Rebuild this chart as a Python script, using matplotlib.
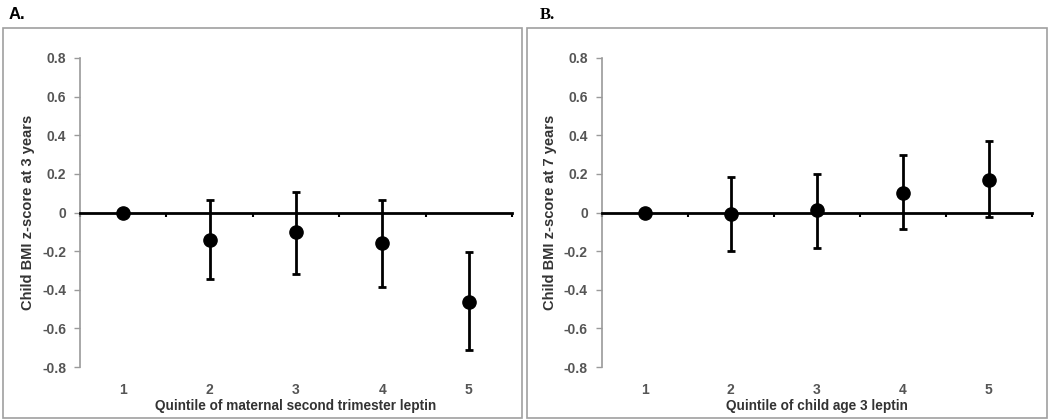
import matplotlib.pyplot as plt
from matplotlib.patches import Rectangle

plt.rcParams['font.family'] = ['Liberation Sans', 'DejaVu Sans']

# data
quintiles = [1, 2, 3, 4, 5]

a_est = [0.0, -0.14, -0.10, -0.16, -0.465]
a_lo = [0.0, -0.345, -0.318, -0.383, -0.71]
a_hi = [0.0, 0.065, 0.105, 0.066, -0.206]

b_est = [0.0, -0.007, 0.013, 0.102, 0.167]
b_lo = [0.0, -0.200, -0.183, -0.084, -0.024]
b_hi = [0.0, 0.183, 0.200, 0.298, 0.368]

yticks = [-0.8, -0.6, -0.4, -0.2, 0, 0.2, 0.4, 0.6, 0.8]
ytick_labels = ['-0.8', '-0.6', '-0.4', '-0.2', '0', '0.2', '0.4', '0.6', '0.8']

panels = [
    ("A.", "Child BMI z-score at 3 years", "Quintile of maternal second trimester leptin",
     a_est, a_lo, a_hi),
    ("B.", "Child BMI z-score at 7 years", "Quintile of child age 3 leptin",
     b_est, b_lo, b_hi),
]

fig = plt.figure(figsize=(10.5, 4.2), dpi=100)

ax_pos = [[0.0762, 0.126, 0.4114, 0.736], [0.573, 0.126, 0.4095, 0.736]]
box_pos = [[0.003, 0.005, 0.494, 0.928], [0.502, 0.005, 0.495, 0.928]]
tag_pos = [(0.008, 0.965), (0.514, 0.965)]
tag_font = ['Liberation Sans', 'Liberation Serif']

for i, (tag, ylab, xlab, est, lo, hi) in enumerate(panels):
    # panel frame
    fig.patches.append(Rectangle(box_pos[i][:2], box_pos[i][2], box_pos[i][3],
                                 transform=fig.transFigure, fill=False,
                                 edgecolor='#a0a0a0', linewidth=1.2))
    fig.text(tag_pos[i][0], tag_pos[i][1], tag, fontsize=12, fontweight='bold',
             family=tag_font[i], va='center', ha='left')

    ax = fig.add_axes(ax_pos[i])
    err_lo = [e - l for e, l in zip(est, lo)]
    err_hi = [h - e for e, h in zip(est, hi)]
    ax.errorbar(quintiles[1:], est[1:], yerr=[err_lo[1:], err_hi[1:]],
                fmt='none', ecolor='black', elinewidth=2, capsize=3, capthick=2, zorder=3)
    ax.plot(quintiles, est, 'o', color='black', markersize=9.5, zorder=4)

    ax.set_xlim(0.5, 5.5)
    ax.set_ylim(-0.8, 0.8)

    for s in ['top', 'right']:
        ax.spines[s].set_visible(False)
    ax.spines['left'].set_color('#9a9a9a')
    ax.spines['left'].set_linewidth(1.2)
    ax.spines['bottom'].set_position(('data', 0))
    ax.spines['bottom'].set_linewidth(2)
    ax.spines['bottom'].set_color('black')

    ax.set_yticks(yticks)
    ax.set_yticklabels(ytick_labels)
    ax.tick_params(axis='y', length=4, width=1, color='#9a9a9a', labelcolor='#555555',
                   labelsize=10, pad=6)
    for t in ax.get_yticklabels():
        t.set_fontweight('bold')

    ax.set_xticks(quintiles)
    ax.set_xticklabels([str(q) for q in quintiles])
    ax.set_xticks([0.5, 1.5, 2.5, 3.5, 4.5, 5.5], minor=True)
    ax.tick_params(axis='x', which='major', length=0, labelcolor='#555555',
                   labelsize=10, pad=123)
    ax.tick_params(axis='x', which='minor', length=3, width=1.5, color='black',
                   direction='out')
    for t in ax.get_xticklabels():
        t.set_fontweight('bold')

    ax.set_xlabel(xlab, fontsize=9.8, fontweight='bold', color='#333333', labelpad=1)
    ax.set_ylabel(ylab, fontsize=10.5, fontweight='bold', color='#333333', labelpad=5)

plt.savefig("out.png", dpi=100)
